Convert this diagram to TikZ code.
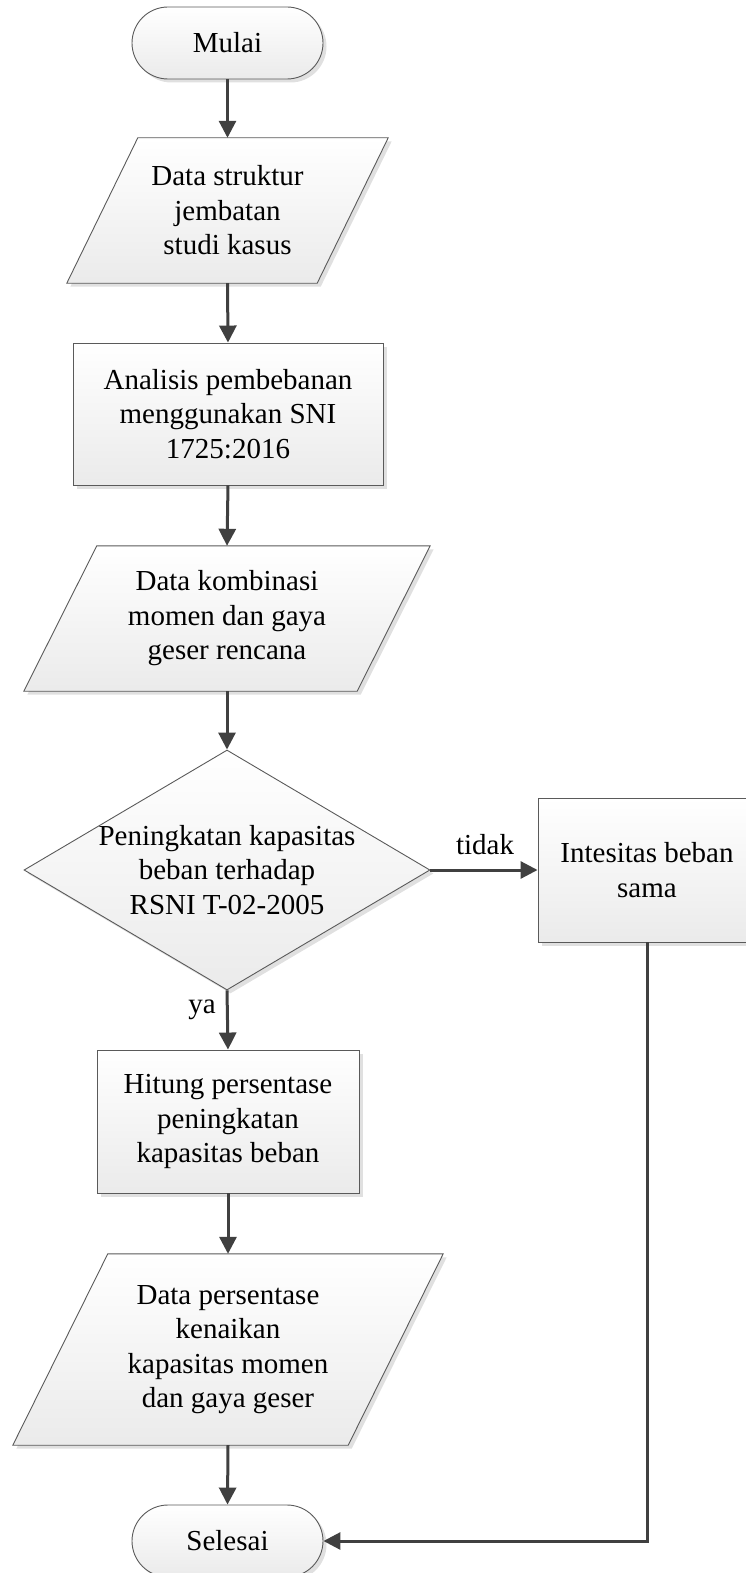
\documentclass[tikz,border=0pt]{standalone}
\usepackage{fontspec}
\setmainfont{Liberation Serif}
\usetikzlibrary{shapes.misc,shapes.geometric,arrows.meta,shadows,calc,backgrounds}
\definecolor{edgegray}{HTML}{5A5A5A}
\definecolor{arrgray}{HTML}{404040}
\tikzset{
  lbl/.style={font=\fontsize{29}{34.5}\selectfont, align=center, inner sep=0pt},
  base/.style={draw=edgegray, line width=0.9pt, top color=white, bottom color=black!8,
    drop shadow={shadow xshift=3.5pt, shadow yshift=-3.5pt, fill=black!12, opacity=1}},
  term/.style={base, lbl, rounded rectangle, minimum width=191pt, minimum height=72pt},
  procbox/.style={base, lbl, rectangle},
  iobox/.style={lbl, rectangle},
  decbox/.style={base, diamond, inner sep=0pt, minimum width=406pt, minimum height=240pt},
  conn/.style={draw=arrgray, line width=3pt, -{Triangle[length=17pt,width=17pt]}},
}
\newcommand{\paraio}[2]{% node name, offset
  \begin{pgfonlayer}{background}
  \path[base] ($(#1.north west)+(#2pt,0)$) -- (#1.north east) -- ($(#1.south east)-(#2pt,0)$) -- (#1.south west) -- cycle;
  \end{pgfonlayer}}
\begin{document}
\begin{tikzpicture}[x=1pt,y=1pt]
\useasboundingbox (0,0) rectangle (745,-1573);

\node[term] (start) at (227.5,-43) {Mulai};

\node[iobox, minimum width=321pt, minimum height=145pt] (d1) at (227.5,-210.5) {Data struktur\\jembatan\\studi kasus};
\paraio{d1}{71}

\node[procbox, minimum width=310pt, minimum height=142pt] (p1) at (228,-414) {Analisis pembebanan\\menggunakan SNI\\1725:2016};

\node[iobox, minimum width=406pt, minimum height=145pt] (d2) at (227,-618.5) {Data kombinasi\\momen dan gaya\\geser rencana};
\paraio{d2}{73}

\node[decbox] (dec) at (227,-870) {};
\node[lbl] (dect) at (227,-870) {Peningkatan kapasitas\\beban terhadap\\RSNI T-02-2005};

\node[procbox, minimum width=218pt, minimum height=144pt] (alt) at (647,-870) {Intesitas beban\\sama};

\node[procbox, minimum width=262pt, minimum height=143pt] (p2) at (228,-1121.5) {Hitung persentase\\peningkatan\\kapasitas beban};

\node[iobox, minimum width=430pt, minimum height=191pt] (d3) at (228,-1349.5) {Data persentase\\kenaikan\\kapasitas momen\\dan gaya geser};
\paraio{d3}{95}

\node[term] (end) at (227.5,-1541) {Selesai};

\draw[conn] (start.south) -- (d1.north);
\draw[conn] (d1.south) -- (p1.north);
\draw[conn] (p1.south) -- (d2.north);
\draw[conn] (d2.south) -- (dec.north);
\draw[conn] (dec.east) -- (alt.west);
\draw[conn] (dec.south) -- (p2.north);
\draw[conn] (p2.south) -- (d3.north);
\draw[conn] (d3.south) -- (end.north);
\draw[conn] (alt.south) |- (end.east);

\node[lbl] (ya) at (202,-1010) {ya};
\node[lbl] (tidak) at (485,-845) {tidak};
\end{tikzpicture}
\end{document}
